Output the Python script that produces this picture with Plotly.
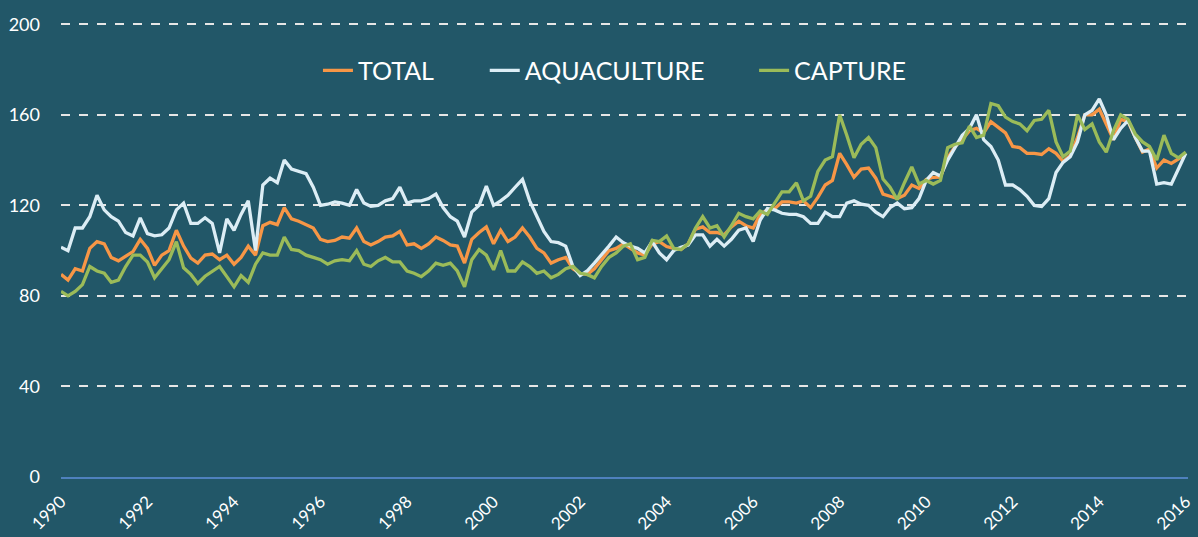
import pandas as pd
import plotly.graph_objects as go

# bimonthly observations, Jan 1990 .. Jan 2016
dates = pd.date_range("1990-01-01", "2016-01-01", freq="2MS")

total = [
    89.5, 87, 92, 91, 101, 104, 103, 97, 95.5, 97.5, 99.6, 105, 101, 93.5, 98, 100, 109, 102, 96.7, 94.5, 98, 98.5, 96, 98, 94, 97, 102,
    98, 111, 112.5, 111.5, 119, 114, 113, 111.5, 110, 105, 104, 104.5, 106, 105.5, 110, 104, 102.5, 104, 106, 106.5, 108.5, 102.5, 103, 101, 103, 106,
    104.5, 102.5, 102, 94.5, 105, 108, 110.5, 103, 109, 104, 106, 110, 106, 101, 99, 94.5, 96, 97, 92, 90, 89.5, 92, 96, 100, 101, 103,
    101, 99, 98, 103, 104, 101.8, 101, 100.5, 103, 109.5, 110.5, 108, 108, 107, 110.5, 113, 111, 110, 116, 118, 118.5, 121.5, 121.5, 121, 122, 119,
    123.5, 129, 131, 143, 138, 132.4, 136, 136.5, 132, 125, 124, 123, 124.5, 129, 127.5, 131.5, 132.4, 132.5, 141, 146, 149, 153, 154, 152, 157, 154.5,
    152, 146, 145.5, 143, 143, 142.5, 145, 143, 139.5, 142, 150, 160, 160, 162.5, 156, 149, 158, 157, 150, 143.5, 145, 136.5, 140, 138.5, 140.5, 143,
]

aquaculture = [
    101.5, 100, 110, 110, 115, 124.5, 118, 115, 113, 108, 106.5, 114.5, 107.5, 106.5, 107, 110, 118, 121, 112, 112, 114.5, 112, 99, 114, 109, 116, 122,
    100, 129, 132, 130, 140, 136, 135, 134, 128, 120, 120.5, 121.5, 121, 120, 127, 121, 119.6, 120, 122, 123, 128, 121, 122, 122, 123, 125,
    119, 115, 113, 106, 117, 120, 128.5, 120, 122, 124.4, 128, 131.5, 122, 115, 108.5, 104, 103.5, 102, 93, 89, 91, 94.5, 98, 102, 106, 103.5,
    102, 101, 99, 104, 99, 96, 100, 101.5, 102.5, 107, 107, 102, 105, 102, 105, 109, 110, 104, 113.5, 118.6, 118, 116.5, 116, 116, 115, 112,
    112, 117, 115, 115, 121, 122, 120.5, 120, 117, 115, 119, 121, 118.5, 119, 123, 131, 134.5, 133, 140, 145.5, 151, 154, 160, 149, 146, 140,
    129, 129, 127, 124, 120, 119.5, 123, 134.5, 139, 141.5, 148, 160, 162, 167, 160, 149, 154, 157.5, 150, 144, 144, 129.4, 130, 129.4, 136, 143,
]

capture = [
    82, 80, 82, 85, 93, 91, 90, 86, 87, 93, 98, 98, 95, 88, 92, 96, 104, 92.4, 89.5, 85.5, 88.7, 91, 93, 88.5, 84, 89, 86,
    94, 99, 98, 98, 106, 100.5, 100, 98, 97, 96, 94, 95.5, 96, 95.5, 100, 94, 93, 95.5, 97, 95, 95, 91, 90, 88.5, 91, 94.5,
    93.5, 94.5, 91, 84, 96, 100.5, 98, 91.5, 100, 91, 91, 95, 93, 90, 91, 88, 89.5, 92, 93, 90, 89.5, 88, 93, 97, 99, 102,
    103, 96, 97, 104.5, 104, 106.5, 101, 100.5, 103, 110, 115, 110, 111, 106, 111, 116.5, 115, 114, 117.5, 116, 121, 126, 126, 130, 122, 124,
    135, 140, 141.5, 160, 151, 141, 147, 150, 145.5, 131.6, 128, 122.5, 130, 137, 129.4, 131, 129.4, 131, 145.5, 147, 147.6, 155, 150, 151, 165, 164,
    159, 157, 156, 153, 157.5, 158, 162, 148, 141.5, 144, 160, 153.5, 156, 148, 143.5, 153, 160, 158, 151.5, 148, 146, 140, 151, 143, 141, 143.5,
]

series_names = ["TOTAL", "AQUACULTURE", "CAPTURE"]
series_colors = ["#f79646", "#dcedf5", "#9bbb59"]
y_ticks = [0, 40, 80, 120, 160, 200]

BG = "#225768"
FONT = "Lato, 'Open Sans', sans-serif"

fig = go.Figure()
legend_ids = ["legend", "legend2", "legend3"]
for name, vals, col, lg in zip(series_names, [total, aquaculture, capture], series_colors, legend_ids):
    fig.add_trace(go.Scatter(
        x=dates, y=vals, name=name, mode="lines",
        line=dict(color=col, width=3.3),
        legend=lg, showlegend=True,
    ))

legend_common = dict(
    orientation="h", yanchor="middle", y=0.893, xanchor="left",
    font=dict(family=FONT, size=25, color="white"),
    bgcolor="rgba(0,0,0,0)", borderwidth=0,
)
fig.update_layout(
    width=1198, height=537,
    showlegend=True,
    paper_bgcolor=BG, plot_bgcolor=BG,
    margin=dict(l=61, r=3, t=22, b=57),
    font=dict(family=FONT, color="white"),
    legend=dict(legend_common, x=0.228),
    legend2=dict(legend_common, x=0.376),
    legend3=dict(legend_common, x=0.615),
    xaxis=dict(
        type="date",
        range=["1990-01-01", "2016-01-20"],
        tick0="1990-01-01", dtick="M24", tickformat="%Y",
        tickangle=-45,
        showgrid=False, zeroline=False,
        showline=True, linecolor="#4f81bd", linewidth=2,
        tickfont=dict(family=FONT, size=17, color="white"),
        ticks="", ticklabelstandoff=6,
        ticklabeloverflow="allow",
    ),
    yaxis=dict(
        range=[0, 201],
        tickvals=y_ticks,
        showgrid=True, gridcolor="#e6e6e6", gridwidth=1.5, griddash="dash",
        zeroline=False, showline=False, ticks="",
        ticklabelstandoff=20,
        tickfont=dict(family=FONT, size=18, color="white"),
    ),
)

fig.write_html(
    "out.html",
    config={"displayModeBar": False},
    post_script="document.body.style.margin='0';",
)
